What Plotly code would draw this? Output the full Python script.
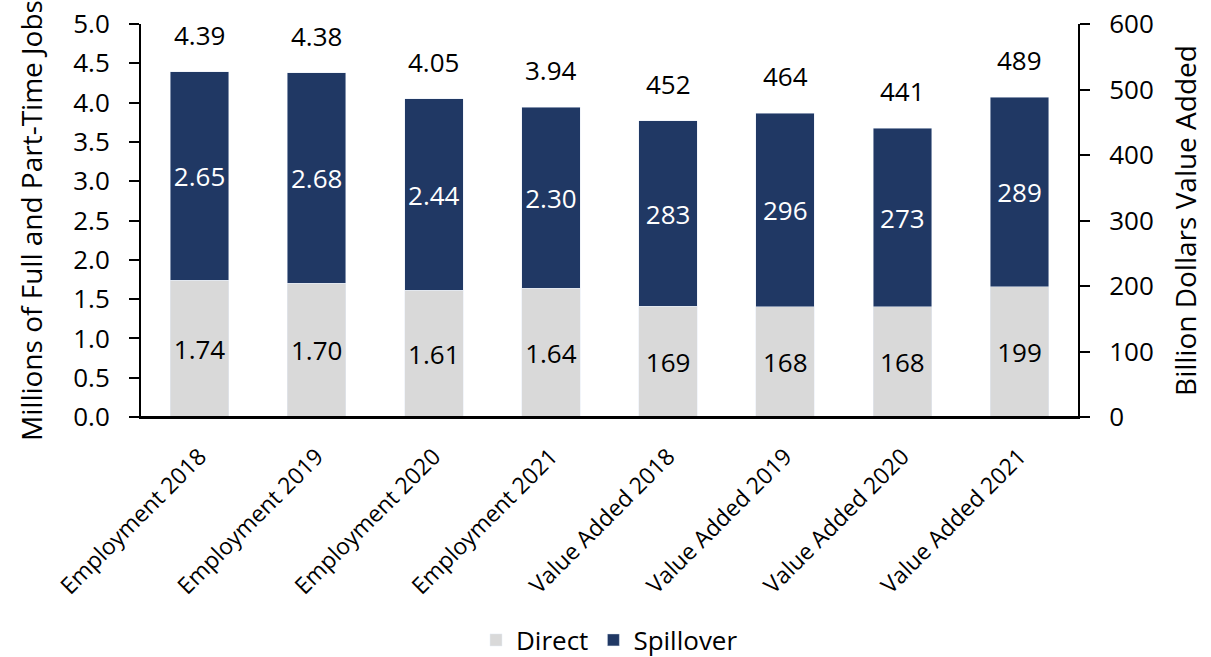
import plotly.graph_objects as go

# Categories and values
emp_cats = ["Employment 2018", "Employment 2019", "Employment 2020", "Employment 2021"]
va_cats = ["Value Added 2018", "Value Added 2019", "Value Added 2020", "Value Added 2021"]

emp_direct = [1.74, 1.70, 1.61, 1.64]
emp_spill = [2.65, 2.68, 2.44, 2.30]
emp_total = [4.39, 4.38, 4.05, 3.94]

va_direct = [169, 168, 168, 199]
va_spill = [283, 296, 273, 289]
va_total = [452, 464, 441, 489]

DIRECT = "#d9d9d9"
SPILL = "#203864"
FONT = "Open Sans"
NUM = 26   # value labels and y tick labels
TITLE = 28

fig = go.Figure()

common = dict(textposition="inside", insidetextanchor="middle", width=0.5,
              constraintext="none")
fig.add_bar(x=emp_cats, y=emp_direct, name="Direct", marker_color=DIRECT,
            legendgroup="d", text=[f"{v:.2f}" for v in emp_direct],
            textfont=dict(color="black", size=NUM), **common)
fig.add_bar(x=emp_cats, y=emp_spill, name="Spillover", marker_color=SPILL,
            legendgroup="s", text=[f"{v:.2f}" for v in emp_spill],
            textfont=dict(color="white", size=NUM), **common)
fig.add_bar(x=va_cats, y=va_direct, name="Direct", marker_color=DIRECT,
            legendgroup="d", showlegend=False, yaxis="y2",
            text=[str(v) for v in va_direct],
            textfont=dict(color="black", size=NUM), **common)
fig.add_bar(x=va_cats, y=va_spill, name="Spillover", marker_color=SPILL,
            legendgroup="s", showlegend=False, yaxis="y2",
            text=[str(v) for v in va_spill],
            textfont=dict(color="white", size=NUM), **common)

# Totals above each stack
annotations = []
for c, t in zip(emp_cats, emp_total):
    annotations.append(dict(x=c, y=t, xref="x", yref="y", text=f"{t:.2f}",
                            showarrow=False, yanchor="middle", yshift=37,
                            font=dict(size=NUM, color="black", family=FONT)))
for c, t in zip(va_cats, va_total):
    annotations.append(dict(x=c, y=t, xref="x", yref="y2", text=str(t),
                            showarrow=False, yanchor="middle", yshift=37,
                            font=dict(size=NUM, color="black", family=FONT)))

axis_style = dict(showgrid=False, showline=True, linecolor="black", linewidth=2,
                  ticks="outside", ticklen=10, tickwidth=2, tickcolor="black",
                  tickfont=dict(size=NUM), ticklabelstandoff=14, automargin=False,
                  zeroline=False)

fig.update_layout(
    width=1211, height=657,
    margin=dict(l=141, r=133, t=24, b=240, autoexpand=False),
    barmode="stack",
    plot_bgcolor="white", paper_bgcolor="white",
    font=dict(family=FONT, size=TITLE, color="black"),
    xaxis=dict(categoryorder="array", categoryarray=emp_cats + va_cats,
               tickangle=-45, showline=True, linecolor="black", linewidth=2,
               ticks="", showgrid=False, tickfont=dict(size=23),
               ticklabelstandoff=15, automargin=False),
    yaxis=dict(range=[0, 5], dtick=0.5, tickformat=".1f",
               title=dict(text="Millions of Full and Part-Time Jobs", standoff=22,
                          font=dict(size=TITLE)),
               **axis_style),
    yaxis2=dict(range=[0, 600], dtick=100, overlaying="y", side="right",
                title=dict(text="Billion Dollars Value Added", standoff=24,
                           font=dict(size=TITLE)),
                **axis_style),
    legend=dict(orientation="h", x=0.5, xanchor="center",
                yref="container", y=17 / 657, yanchor="middle",
                font=dict(size=26), traceorder="normal"),
    annotations=annotations,
    shapes=[dict(type="line", xref="paper", yref="paper",
                 x0=-10 / 937, x1=1 + 10 / 937, y0=0, y1=0,
                 line=dict(color="black", width=2))],
)

fig.write_html("out.html")
